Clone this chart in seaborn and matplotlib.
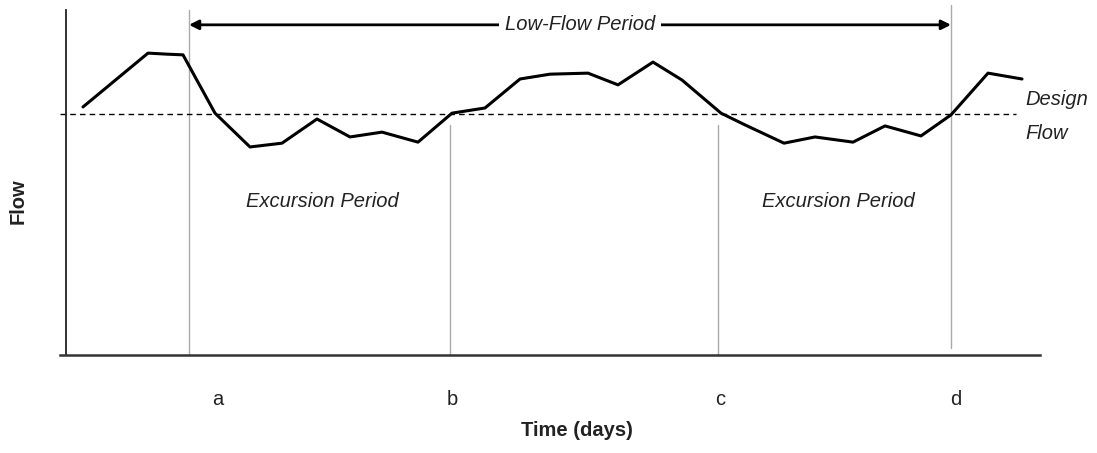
import matplotlib
matplotlib.use("Agg")
import matplotlib.pyplot as plt
import seaborn as sns
import pandas as pd

# flow hydrograph (time in arbitrary day units)
time_days = [1.7, 8.2, 10.1, 11.7, 14.9, 18.4, 21.6, 25.1, 28.4, 31.6, 35.2,
             38.6, 41.9, 45.4, 48.4, 52.2, 55.2, 58.7, 61.6, 65.5, 67.9, 71.8,
             74.9, 78.7, 81.9, 85.5, 88.5, 92.2, 95.6]
flow = [71.9, 87.5, 87.2, 87.0, 70.1, 60.3, 61.4, 68.4, 63.2, 64.6, 61.7,
        70.1, 71.6, 80.0, 81.4, 81.7, 78.3, 84.9, 79.7, 70.1, 66.7, 61.4,
        63.2, 61.7, 66.4, 63.5, 69.6, 81.7, 80.0]
design_flow = 70.0

# event markers a-d and where their labels sit
event_times = [12.3, 38.4, 65.2, 88.5]
event_bottom = [0.0, 0.0, 0.0, 2.0]
event_top = [100.0, 66.7, 66.7, 101.4]
tick_pos = [15.2, 38.6, 65.4, 89.0]
tick_labels = ["a", "b", "c", "d"]

sns.set_theme(style="white")
plt.rcParams["font.family"] = ["Liberation Sans", "DejaVu Sans"]

FS = 14.5
TXT = "#222222"

fig = plt.figure(figsize=(10.97, 4.53), dpi=100)
ax = fig.add_axes([60 / 1097, 98 / 453, 980 / 1097, 345 / 453])

df = pd.DataFrame({"time": time_days, "flow": flow})
sns.lineplot(data=df, x="time", y="flow", ax=ax, color="black",
             linewidth=2.2, sort=False)
ax.set_xlabel("")
ax.set_ylabel("")

ax.set_xlim(-0.6, 97.4)
ax.set_ylim(0, 100)

# design flow threshold
ax.plot([-0.6, 95.0], [design_flow, design_flow], color="black",
        linewidth=1.0, linestyle=(0, (4, 3)), clip_on=False)

for t, lo, hi in zip(event_times, event_bottom, event_top):
    ax.plot([t, t], [lo, hi], color="#aaaaaa", linewidth=1.0, clip_on=False,
            zorder=1)

# low-flow period arrow
arrow_y = 95.7
ax.annotate("", xy=(event_times[0], arrow_y), xytext=(event_times[3], arrow_y),
            arrowprops=dict(arrowstyle="<|-|>", color="black", lw=2.0,
                            mutation_scale=14, shrinkA=0, shrinkB=0))
ax.text(51.4, arrow_y, "Low-Flow Period", style="italic", fontsize=FS,
        ha="center", va="center", color=TXT,
        bbox=dict(facecolor="white", edgecolor="none", pad=4))

ax.text(25.6, 44.6, "Excursion Period", style="italic", fontsize=FS,
        ha="center", va="center", color=TXT)
ax.text(77.2, 44.6, "Excursion Period", style="italic", fontsize=FS,
        ha="center", va="center", color=TXT)
ax.text(95.9, 74.0, "Design", style="italic", fontsize=FS,
        ha="left", va="center", color=TXT)
ax.text(95.9, 64.3, "Flow", style="italic", fontsize=FS,
        ha="left", va="center", color=TXT)

ax.set_xticks(tick_pos)
ax.set_xticklabels(tick_labels, fontsize=FS, color=TXT)
ax.set_yticks([])
ax.tick_params(axis="x", length=0, pad=25)

fig.text(577 / 1097, 1 - 430 / 453, "Time (days)", fontsize=FS,
         fontweight="bold", ha="center", va="center", color=TXT)
fig.text(18 / 1097, 1 - 201 / 453, "Flow", fontsize=FS, fontweight="bold",
         rotation=90, ha="center", va="center", color=TXT)

for side in ["top", "right"]:
    ax.spines[side].set_visible(False)
ax.spines["left"].set_position(("data", 0))
ax.spines["left"].set_color("#222222")
ax.spines["left"].set_linewidth(1.3)
ax.spines["bottom"].set_color("#333333")
ax.spines["bottom"].set_linewidth(1.8)

fig.savefig("out.png", dpi=100)
